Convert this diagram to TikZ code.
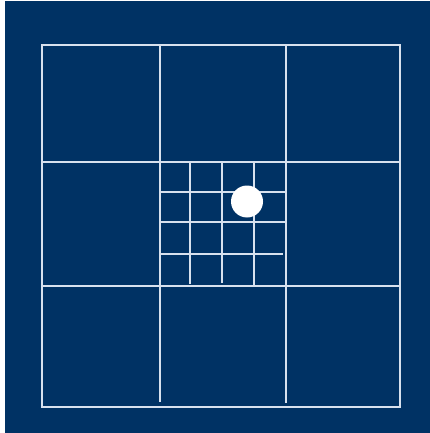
\documentclass[tikz,border=0pt]{standalone}
\definecolor{bgblue}{RGB}{0,50,100}
\definecolor{gridline}{RGB}{215,225,238}
\tikzset{gl/.style={draw=gridline,line width=2pt,line cap=butt}}
\begin{document}
\begin{tikzpicture}[x=1pt,y=-1pt]
\useasboundingbox (0,0) rectangle (430,433);
\fill[white] (0,0) rectangle (430,433);
\fill[bgblue] (5,1) rectangle (430,433);
% outer square
\draw[gl] (41.5,45.5) rectangle (400,406.5);
% main verticals
\draw[gl] (160,45.5) -- (160,402);
\draw[gl] (286,45.5) -- (286,403);
% main horizontals
\draw[gl] (41.5,162) -- (400,162);
\draw[gl] (41.5,286) -- (400,286);
% inner grid verticals
\draw[gl] (190,162) -- (190,284);
\draw[gl] (222,162) -- (222,283);
\draw[gl] (254,162) -- (254,285);
% inner grid horizontals
\draw[gl] (160,192) -- (286,192);
\draw[gl] (160,222) -- (286,222);
\draw[gl] (160,254) -- (282.5,254);
% dot
\node[circle,fill=white,inner sep=0pt,minimum size=32pt] (dot) at (247,201.5) {};
\end{tikzpicture}
\end{document}
